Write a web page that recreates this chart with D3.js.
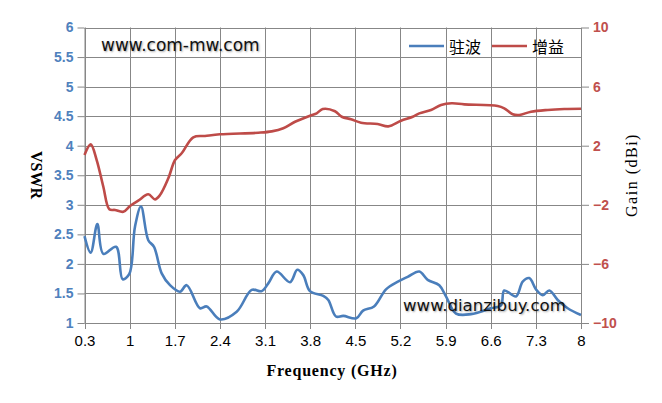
<!DOCTYPE html>
<html><head><meta charset="utf-8">
<script src="https://cdn.jsdelivr.net/npm/d3@7"></script>
<style>
body{margin:0;background:#fff;}
svg{display:block;}
.wm{font-family:"DejaVu Sans",Verdana,sans-serif;fill:#111;text-shadow:1px 1px 2px rgba(0,0,0,0.35);}
</style></head>
<body><svg id="c" width="662" height="403"></svg>
<script>
// ---- data ----
const xTicks = [0.3,1,1.7,2.4,3.1,3.8,4.5,5.2,5.9,6.6,7.3,8];
const leftTicks = [1,1.5,2,2.5,3,3.5,4,4.5,5,5.5,6];
const rightTicks = [-10,-6,-2,2,6,10];
const seriesNames = ["驻波","增益"];

const vswrFreq = [0.3,0.396,0.499,0.592,0.789,0.892,0.995,1.083,1.176,1.289,1.378,1.497,1.626,1.781,1.885,2.091,2.195,2.401,2.66,2.893,3.048,3.15,3.28,3.487,3.6,3.693,3.797,4.003,4.081,4.2,4.314,4.515,4.62,4.79,4.976,5.16,5.312,5.492,5.622,5.802,5.906,6.061,6.294,6.604,6.759,6.81,6.992,7.096,7.198,7.302,7.406,7.508,7.639,7.794,8.0];
const vswrVals = [2.47,2.19,2.675,2.17,2.29,1.74,1.83,2.63,2.97,2.40,2.29,1.84,1.64,1.53,1.64,1.25,1.28,1.06,1.19,1.56,1.54,1.67,1.87,1.69,1.90,1.81,1.54,1.46,1.39,1.11,1.12,1.08,1.21,1.28,1.57,1.70,1.78,1.87,1.73,1.64,1.45,1.16,1.15,1.25,1.30,1.55,1.45,1.70,1.76,1.57,1.47,1.55,1.39,1.25,1.135];

const gainFreq = [0.3,0.396,0.489,0.592,0.685,0.773,0.902,1.006,1.134,1.289,1.393,1.471,1.6,1.704,1.807,1.987,2.169,2.401,2.995,3.203,3.383,3.565,3.797,3.901,3.994,4.185,4.289,4.433,4.588,4.847,5.012,5.209,5.39,5.492,5.674,5.829,5.995,6.19,6.708,6.81,6.941,7.043,7.225,7.484,7.741,8.0];
const gainVals = [1.37,2.09,1.03,-0.78,-2.30,-2.35,-2.47,-2.08,-1.72,-1.29,-1.63,-1.34,-0.21,1.03,1.49,2.57,2.66,2.77,2.88,2.97,3.18,3.62,4.03,4.19,4.48,4.33,3.96,3.79,3.56,3.47,3.31,3.69,3.96,4.19,4.42,4.75,4.87,4.80,4.69,4.53,4.13,4.08,4.30,4.42,4.48,4.50];

// ---- layout ----
const svg = d3.select("#c");
const L = 84.5, R = 581, T = 27.5, B = 323;
const x = d3.scaleLinear().domain([0.3,8]).range([L,R]);
const yL = d3.scaleLinear().domain([1,6]).range([B,T]);
const yR = d3.scaleLinear().domain([-10,10]).range([B,T]);
const gridCol = "#878787";
const blue = "#4A7EBB", red = "#BE4B48";

// gridlines
const grid = svg.append("g");
grid.selectAll(".h").data(leftTicks).join("line")
  .attr("x1",L).attr("x2",R).attr("y1",d=>Math.round(yL(d))+0.5).attr("y2",d=>Math.round(yL(d))+0.5)
  .attr("stroke",gridCol).attr("stroke-width",1);
grid.selectAll(".v").data(xTicks).join("line")
  .attr("x1",d=>Math.round(x(d))+0.5).attr("x2",d=>Math.round(x(d))+0.5).attr("y1",T).attr("y2",B+6)
  .attr("stroke",gridCol).attr("stroke-width",1);

// left axis
const gl = svg.append("g").attr("transform",`translate(${L},0)`)
  .call(d3.axisLeft(yL).tickValues(leftTicks).tickSize(7).tickSizeOuter(0).tickPadding(4).tickFormat(d3.format("")));
gl.select(".domain").attr("stroke",gridCol);
gl.selectAll(".tick line").attr("stroke",gridCol);
gl.selectAll(".tick text").attr("fill","#4F81BD").style("font-family","'Liberation Sans',Arial,sans-serif")
  .style("font-size","14px").style("font-weight","bold");

// right axis
const gr = svg.append("g").attr("transform",`translate(${R+1},0)`)
  .call(d3.axisRight(yR).tickValues(rightTicks).tickSize(7).tickSizeOuter(0).tickPadding(4).tickFormat(d3.format("")));
gr.select(".domain").remove();
gr.selectAll(".tick line").attr("stroke",gridCol);
gr.selectAll(".tick text").attr("fill","#C0504D").style("font-family","'Liberation Sans',Arial,sans-serif")
  .style("font-size","14px").style("font-weight","bold");

// bottom axis
const gb = svg.append("g").attr("transform",`translate(0,${B})`)
  .call(d3.axisBottom(x).tickValues(xTicks).tickSize(0).tickSizeOuter(0).tickPadding(12).tickFormat(d3.format("")));
gb.select(".domain").attr("stroke",gridCol);
gb.selectAll(".tick text").attr("fill","#000").style("font-family","'Liberation Sans',Arial,sans-serif")
  .style("font-size","15px");

// axis titles
svg.append("text").attr("transform","translate(36,175) rotate(90)").attr("text-anchor","middle")
  .attr("dominant-baseline","central")
  .style("font-family","'Liberation Serif','DejaVu Serif',serif").style("font-size","16px").style("font-weight","bold")
  .text("VSWR");
svg.append("text").attr("transform","translate(631,175) rotate(-90)").attr("text-anchor","middle")
  .attr("dominant-baseline","central")
  .style("font-family","'Liberation Serif','DejaVu Serif',serif").style("font-size","16px").style("letter-spacing","1.5px")
  .text("Gain (dBi)");
svg.append("text").attr("x",332).attr("y",376).attr("text-anchor","middle")
  .style("font-family","'Liberation Serif','DejaVu Serif',serif").style("font-size","16px").style("font-weight","bold")
  .style("letter-spacing","0.8px")
  .text("Frequency (GHz)");

// lines
const curve = d3.curveCatmullRom.alpha(0.5);
const vswrData = vswrFreq.map((f,i)=>[f,vswrVals[i]]);
const gainData = gainFreq.map((f,i)=>[f,gainVals[i]]);
svg.append("path").datum(gainData)
  .attr("d",d3.line().x(d=>x(d[0])).y(d=>yR(d[1])).curve(curve))
  .attr("fill","none").attr("stroke",red).attr("stroke-width",2.6).attr("stroke-linejoin","round");
svg.append("path").datum(vswrData)
  .attr("d",d3.line().x(d=>x(d[0])).y(d=>yL(d[1])).curve(curve))
  .attr("fill","none").attr("stroke",blue).attr("stroke-width",2.6).attr("stroke-linejoin","round");

// watermarks
svg.append("text").attr("class","wm").attr("x",101).attr("y",51).style("font-size","17px").text("www.com-mw.com");
svg.append("text").attr("class","wm").attr("x",403).attr("y",311).style("font-size","16.6px").text("www.dianzibuy.com");

// legend
const leg = svg.append("g");
const legItems = [{name:seriesNames[0],col:blue,x:409},{name:seriesNames[1],col:red,x:492}];
legItems.forEach(it=>{
  leg.append("line").attr("x1",it.x).attr("x2",it.x+35).attr("y1",46).attr("y2",46)
    .attr("stroke",it.col).attr("stroke-width",2.6);
  leg.append("text").attr("x",it.x+40).attr("y",46).attr("dominant-baseline","central")
    .style("font-family","'Noto Sans CJK SC',sans-serif").style("font-size","16px").attr("fill","#000")
    .text(it.name);
});
</script></body></html>
